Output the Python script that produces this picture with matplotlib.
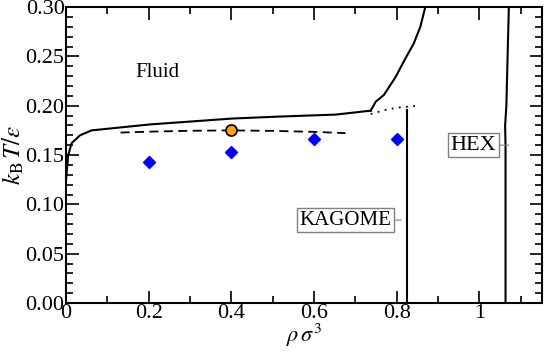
import numpy as np
import matplotlib
matplotlib.use("Agg")
import matplotlib.pyplot as plt
from matplotlib.ticker import MultipleLocator

plt.rcParams["font.family"] = ["Liberation Serif", "DejaVu Serif"]
plt.rcParams["mathtext.fontset"] = "stix"

# fluid / solid coexistence boundary (solid line)
fluid_x = [0.0, 0.0017, 0.0055, 0.0137, 0.034, 0.062, 0.202, 0.402, 0.516, 0.652, 0.737]
fluid_y = [0.124, 0.132, 0.150, 0.162, 0.170, 0.175, 0.181, 0.187, 0.189, 0.191, 0.195]
# upper branch after the kink
upper_x = [0.737, 0.749, 0.769, 0.797, 0.821, 0.841, 0.857, 0.869]
upper_y = [0.195, 0.204, 0.211, 0.229, 0.248, 0.263, 0.280, 0.300]
# dashed line
dash_x = [0.132, 0.2, 0.3, 0.4, 0.5, 0.6, 0.676]
dash_y = [0.1728, 0.1737, 0.1746, 0.1750, 0.1745, 0.1735, 0.1722]
# dotted line
dot_x = [0.737, 0.77, 0.80, 0.845]
dot_y = [0.1916, 0.1955, 0.1980, 0.1997]
# KAGOME boundary
kag_x = [0.825, 0.825]
kag_y = [0.0, 0.196]
# HEX boundary
hex_x = [1.063, 1.063, 1.062, 1.065, 1.068, 1.071]
hex_y = [0.0, 0.16, 0.18, 0.20, 0.25, 0.30]
# simulation points
dia_x = [0.2, 0.4, 0.6, 0.8]
dia_y = [0.1425, 0.1535, 0.1665, 0.1665]
circ_x = [0.4]
circ_y = [0.1752]

fig = plt.figure(figsize=(5.45, 3.52), dpi=100)
ax = fig.add_axes([0.121, 0.139, 0.8726, 0.841])

ax.plot(fluid_x, fluid_y, color="black", lw=1.5)
ax.plot(upper_x, upper_y, color="black", lw=1.5)
ax.plot(dash_x, dash_y, color="black", lw=1.3, ls=(0, (5, 3)))
ax.plot(dot_x, dot_y, color="black", lw=1.3, ls=(0, (1, 3)))
ax.plot(kag_x, kag_y, color="black", lw=1.5)
ax.plot(hex_x, hex_y, color="black", lw=1.5)
ax.plot(dia_x, dia_y, ls="none", marker="D", ms=6, color="blue", mec="blue")
ax.plot(circ_x, circ_y, ls="none", marker="o", ms=8, color="#ff9f1a", mec="black", mew=1.2)

ax.text(0.222, 0.234, "Fluid", fontsize=15, ha="center", va="center")
box = dict(boxstyle="square,pad=0.12", fc="white", ec="gray", lw=1)
ax.annotate("HEX", xy=(1.071, 0.160), xytext=(0.985, 0.160), fontsize=16,
            ha="center", va="center", bbox=box,
            arrowprops=dict(arrowstyle="-", color="gray", lw=0.8, shrinkA=0, shrinkB=0))
ax.annotate("KAGOME", xy=(0.811, 0.0841), xytext=(0.676, 0.0841), fontsize=15,
            ha="center", va="center", bbox=box,
            arrowprops=dict(arrowstyle="-", color="gray", lw=0.8, shrinkA=0, shrinkB=0))

ax.set_xlim(0, 1.15)
ax.set_ylim(0, 0.30)
ax.set_xticks([0, 0.2, 0.4, 0.6, 0.8, 1.0])
ax.set_xticklabels(["0", "0.2", "0.4", "0.6", "0.8", "1"])
ax.set_yticks(np.arange(0, 0.31, 0.05))
ax.set_yticklabels([f"{v:.2f}" for v in np.arange(0, 0.31, 0.05)])
ax.xaxis.set_minor_locator(MultipleLocator(0.1))
ax.yaxis.set_minor_locator(MultipleLocator(0.01))
ax.tick_params(which="both", direction="in", top=True, right=True, labelsize=16, width=1.2)
ax.tick_params(which="major", length=9, pad=1)
ax.tick_params(which="minor", length=5)
for s in ax.spines.values():
    s.set_linewidth(1.5)

ax.set_xlabel(r"$\rho\,\sigma^3$", fontsize=16, labelpad=-1)
ax.set_ylabel(r"$k_{\mathrm{B}}\,T/\varepsilon$", fontsize=18, labelpad=0)

fig.savefig("out.png", dpi=100)
